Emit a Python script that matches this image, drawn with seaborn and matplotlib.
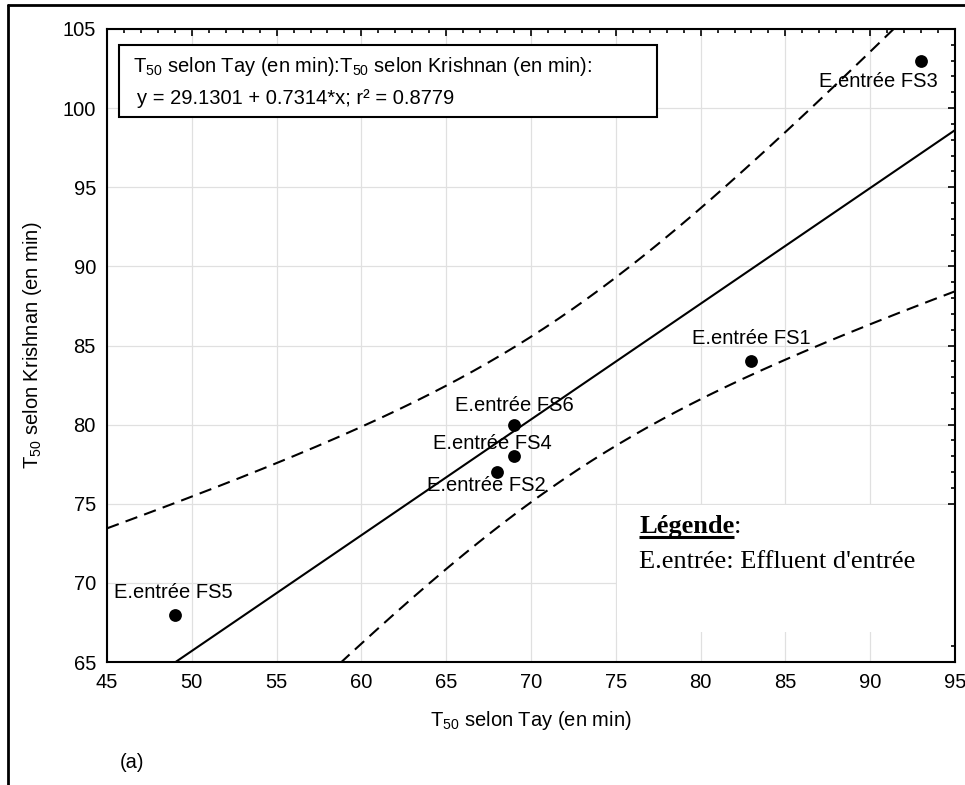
import numpy as np
import pandas as pd
import matplotlib
matplotlib.use("Agg")
import matplotlib.pyplot as plt
from matplotlib.lines import Line2D
from matplotlib.patches import Rectangle
import seaborn as sns

# Data: T50 (min) from the Tay and Krishnan methods for each inlet effluent
samples = ["E.entrée FS1", "E.entrée FS2", "E.entrée FS3",
           "E.entrée FS4", "E.entrée FS5", "E.entrée FS6"]
t50_tay = [83, 68, 93, 69, 49, 69]
t50_krishnan = [84, 77, 103, 78, 68, 80]

x_ticks = [45, 50, 55, 60, 65, 70, 75, 80, 85, 90, 95]
y_ticks = [65, 70, 75, 80, 85, 90, 95, 100, 105]

# label placement relative to each point (pixels)
label_offsets = {"E.entrée FS1": (0, 23), "E.entrée FS2": (-11, -13),
                 "E.entrée FS3": (-43, -21), "E.entrée FS4": (-22, 13),
                 "E.entrée FS5": (-2, 22), "E.entrée FS6": (0, 19)}

df = pd.DataFrame({"tay": t50_tay, "krishnan": t50_krishnan, "name": samples})

sns.set_theme(style="white")
plt.rcParams["font.family"] = ["Liberation Sans", "DejaVu Sans"]
plt.rcParams["mathtext.fontset"] = "custom"
plt.rcParams["mathtext.rm"] = "Liberation Sans"
plt.rcParams["mathtext.it"] = "Liberation Sans:italic"
plt.rcParams["mathtext.default"] = "regular"
for key in ("text.color", "axes.labelcolor", "xtick.color", "ytick.color",
            "xtick.labelcolor", "ytick.labelcolor"):
    plt.rcParams[key] = "black"

FS = 14.5
fig = plt.figure(figsize=(9.65, 7.85), dpi=100)
ax = fig.add_axes([107 / 965, 1 - 662 / 785, 848 / 965, 633 / 785])
ax.set_xlim(45, 95)
ax.set_ylim(65, 105)

# regression line through the full x range, plus the points
sns.regplot(data=df, x="tay", y="krishnan", ax=ax, ci=None, truncate=False,
            scatter_kws={"s": 85, "color": "black", "linewidths": 0,
                         "alpha": 1, "zorder": 4},
            line_kws={"color": "black", "lw": 1.5, "zorder": 3})

# 95% confidence band of the mean response
x = np.asarray(t50_tay, float)
y = np.asarray(t50_krishnan, float)
n = len(x)
slope, intercept = np.polyfit(x, y, 1)
resid = y - (intercept + slope * x)
s = np.sqrt(np.sum(resid ** 2) / (n - 2))
sxx = np.sum((x - x.mean()) ** 2)
t_crit = 2.776  # Student t, 0.975, 4 dof
xs = np.linspace(45, 95, 300)
fit = intercept + slope * xs
half = t_crit * s * np.sqrt(1 / n + (xs - x.mean()) ** 2 / sxx)
for band in (fit + half, fit - half):
    ax.plot(xs, band, color="black", lw=1.5, linestyle=(0, (6, 3.5)), zorder=3)

r2 = 1 - np.sum(resid ** 2) / np.sum((y - y.mean()) ** 2)

# point labels
for name, xi, yi in zip(samples, t50_tay, t50_krishnan):
    dx, dy = label_offsets[name]
    ax.annotate(name, (xi, yi), xytext=(dx, dy), textcoords="offset pixels",
                ha="center", va="center", fontsize=FS, color="black", zorder=5)

# axes styling
ax.set_xticks(x_ticks)
ax.set_yticks(y_ticks)
ax.set_xticks(np.arange(45, 96, 1), minor=True)
ax.set_yticks(np.arange(65, 106, 1), minor=True)
ax.tick_params(which="both", direction="in", top=True, right=True,
               color="black", labelcolor="black", width=1.2, labelsize=FS, pad=8)
ax.tick_params(which="major", length=5)
ax.tick_params(which="minor", length=3)
ax.set_axisbelow(True)
ax.grid(True, which="major", color="#e0e0e0", lw=0.9)
for sp in ax.spines.values():
    sp.set_color("black")
    sp.set_linewidth(1.5)

ax.set_xlabel(r"T$_{50}$ selon Tay (en min)", fontsize=FS, labelpad=12,
              color="black")
ax.set_ylabel(r"T$_{50}$ selon Krishnan (en min)", fontsize=FS, labelpad=13,
              color="black")

# equation box
ax.add_patch(Rectangle((12 / 848, 1 - 88 / 633), 538 / 848, 72 / 633,
                       transform=ax.transAxes, facecolor="white",
                       edgecolor="black", lw=1.5, zorder=6))
ax.text(26 / 848, 1 - 37 / 633,
        r"T$_{50}$ selon Tay (en min):T$_{50}$ selon Krishnan (en min):",
        transform=ax.transAxes, fontsize=FS, va="center", ha="left", zorder=7)
ax.text(30 / 848, 1 - 69 / 633,
        f"y = {intercept:.4f} + {slope:.4f}*x; r² = {r2:.4f}",
        transform=ax.transAxes, fontsize=FS, va="center", ha="left", zorder=7)

# legend panel
ax.add_patch(Rectangle((510 / 848, 1 - 603 / 633), 338 / 848, 127 / 633,
                       transform=ax.transAxes, facecolor="white",
                       edgecolor="none", zorder=1))
serif = ["Liberation Serif", "DejaVu Serif"]
leg_t = ax.text(532 / 848, 1 - 498 / 633, "Légende", transform=ax.transAxes,
                fontsize=19, family=serif, fontweight="bold",
                va="center", ha="left", zorder=7)
ax.text(532 / 848, 1 - 533 / 633, "E.entrée: Effluent d'entrée",
        transform=ax.transAxes, fontsize=19, family=serif,
        va="center", ha="left", zorder=7)

fig.canvas.draw()
bb = leg_t.get_window_extent()
inv = ax.transAxes.inverted()
(x0, y0), (x1, _) = inv.transform([(bb.x0, bb.y0 + 2), (bb.x1, bb.y0)])
ax.plot([x0, x1], [y0, y0], transform=ax.transAxes, color="black",
        lw=2.2, solid_capstyle="butt", zorder=7)
ax.text(x1, 1 - 498 / 633, ":", transform=ax.transAxes, fontsize=19,
        family=serif, va="center", ha="left", zorder=7)

fig.text(120 / 965, 1 - 763 / 785, "(a)", fontsize=FS, ha="left", va="center")

# page frame lines
fig.add_artist(Line2D([8 / 965, 1], [1 - 5 / 785] * 2, transform=fig.transFigure,
                      color="black", lw=2))
fig.add_artist(Line2D([8 / 965] * 2, [0, 1 - 5 / 785], transform=fig.transFigure,
                      color="black", lw=2))

fig.savefig("out.png", dpi=100)
